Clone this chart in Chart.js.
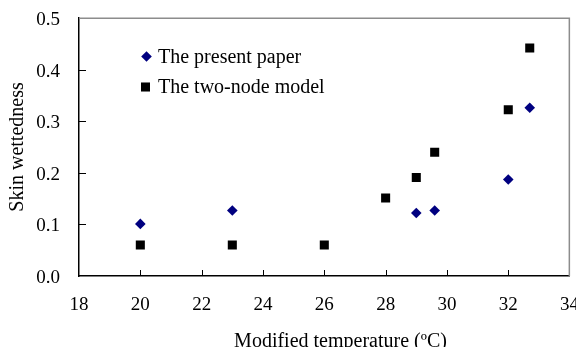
<!DOCTYPE html>
<html>
<head>
<meta charset="utf-8">
<script src="https://cdn.jsdelivr.net/npm/chart.js@4.4.1/dist/chart.umd.min.js"></script>
<style>
  html, body { margin: 0; padding: 0; background: #ffffff; }
  #wrap { width: 576px; height: 347px; }
</style>
</head>
<body>
<div id="wrap"><canvas id="c" width="576" height="347"></canvas></div>
<script>
// ---- data ----
const presentLabel = 'The present paper';
const presentX = [20, 23, 29, 29.6, 32, 32.7];
const presentY = [0.101, 0.127, 0.122, 0.127, 0.187, 0.326];

const twoNodeLabel = 'The two-node model';
const twoNodeX = [20, 23, 26, 28, 29, 29.6, 32, 32.7];
const twoNodeY = [0.060, 0.060, 0.060, 0.151, 0.191, 0.240, 0.322, 0.442];

const xTitle = 'Modified temperature (\u00BAC)';
const yTitle = 'Skin wettedness';
const xMin = 18, xMax = 34, xStep = 2;
const yMin = 0, yMax = 0.5, yStep = 0.1;

const FONT = "'Liberation Serif', 'Times New Roman', serif";

function toPoints(xs, ys) { return xs.map((x, i) => ({ x: x, y: ys[i] })); }

// inward tick marks + frame + x title + legend
const decorPlugin = {
  id: 'decor',
  afterDraw(chart) {
    const ctx = chart.ctx;
    const a = chart.chartArea;
    const xs = chart.scales.x, ys = chart.scales.y;
    ctx.save();
    // top/right frame (gray)
    ctx.strokeStyle = '#8c8c8c';
    ctx.lineWidth = 1.5;
    ctx.beginPath();
    ctx.moveTo(a.left, a.top + 0.25);
    ctx.lineTo(a.right - 0.25, a.top + 0.25);
    ctx.lineTo(a.right - 0.25, a.bottom);
    ctx.stroke();
    // inward ticks
    ctx.strokeStyle = '#000000';
    ctx.lineWidth = 1;
    ctx.beginPath();
    xs.ticks.forEach(t => {
      if (t.value <= xMin || t.value >= xMax) return;
      const px = Math.round(xs.getPixelForValue(t.value)) + 0.5;
      ctx.moveTo(px, a.bottom);
      ctx.lineTo(px, a.bottom - 6);
    });
    ys.ticks.forEach(t => {
      if (t.value <= yMin + 1e-9 || t.value >= yMax - 1e-9) return;
      const py = Math.round(ys.getPixelForValue(t.value)) + 0.5;
      ctx.moveTo(a.left, py);
      ctx.lineTo(a.left + 7, py);
    });
    ctx.stroke();
    // x title
    ctx.fillStyle = '#000000';
    ctx.font = '20px ' + FONT;
    ctx.textAlign = 'center';
    ctx.textBaseline = 'alphabetic';
    ctx.fillText(xTitle, 340.5, 346.5);
    // legend inside plot
    const rows = [
      { ds: chart.data.datasets[0], mx: 146.5, my: 56.5, ty: 62.5 },
      { ds: chart.data.datasets[1], mx: 145.5, my: 87, ty: 92.5 }
    ];
    rows.forEach(r => {
      const ds = r.ds;
      ctx.fillStyle = ds.backgroundColor;
      ctx.beginPath();
      if (ds.pointStyle === 'rectRot') {
        const rr = ds.pointRadius;
        ctx.moveTo(r.mx, r.my - rr);
        ctx.lineTo(r.mx + rr, r.my);
        ctx.lineTo(r.mx, r.my + rr);
        ctx.lineTo(r.mx - rr, r.my);
        ctx.closePath();
      } else {
        const h = Math.SQRT1_2 * ds.pointRadius;
        ctx.rect(r.mx - h, r.my - h, 2 * h, 2 * h);
      }
      ctx.fill();
      ctx.fillStyle = '#000000';
      ctx.textAlign = 'left';
      ctx.fillText(ds.label, 158, r.ty);
    });
    ctx.restore();
  }
};

new Chart(document.getElementById('c'), {
  type: 'scatter',
  data: {
    datasets: [
      {
        label: presentLabel,
        data: toPoints(presentX, presentY),
        pointStyle: 'rectRot',
        pointRadius: 5.3,
        backgroundColor: '#000080',
        borderColor: '#000080',
        borderWidth: 0
      },
      {
        label: twoNodeLabel,
        data: toPoints(twoNodeX, twoNodeY),
        pointStyle: 'rect',
        pointRadius: 6.4,
        backgroundColor: '#000000',
        borderColor: '#000000',
        borderWidth: 0
      }
    ]
  },
  options: {
    responsive: false,
    animation: false,
    devicePixelRatio: 1,
    layout: { padding: { left: 0, top: 18, right: 6, bottom: 0 } },
    plugins: {
      legend: { display: false },
      tooltip: { enabled: false }
    },
    scales: {
      x: {
        type: 'linear',
        min: xMin, max: xMax,
        grid: { display: false, drawTicks: false },
        border: { display: true, color: '#000000', width: 1.5 },
        ticks: {
          stepSize: xStep,
          padding: 18,
          color: '#000000',
          font: { family: FONT, size: 19 },
          maxRotation: 0
        },
        afterFit(scale) {
          scale.height = 71;
          scale.paddingLeft = 0;
          scale.paddingRight = 0;
        }
      },
      y: {
        type: 'linear',
        min: yMin, max: yMax,
        grid: { display: false, drawTicks: false },
        border: { display: true, color: '#000000', width: 1.5 },
        ticks: {
          stepSize: yStep,
          padding: 19,
          labelOffset: 2,
          color: '#000000',
          font: { family: FONT, size: 19 },
          callback: v => Number(v).toFixed(1)
        },
        title: {
          display: true,
          text: yTitle,
          color: '#000000',
          font: { family: FONT, size: 20 },
          padding: { top: 6, bottom: 0 }
        },
        afterFit(scale) {
          scale.width = 79;
          scale.paddingTop = 0;
          scale.paddingBottom = 0;
        }
      }
    }
  },
  plugins: [decorPlugin]
});
</script>
</body>
</html>
